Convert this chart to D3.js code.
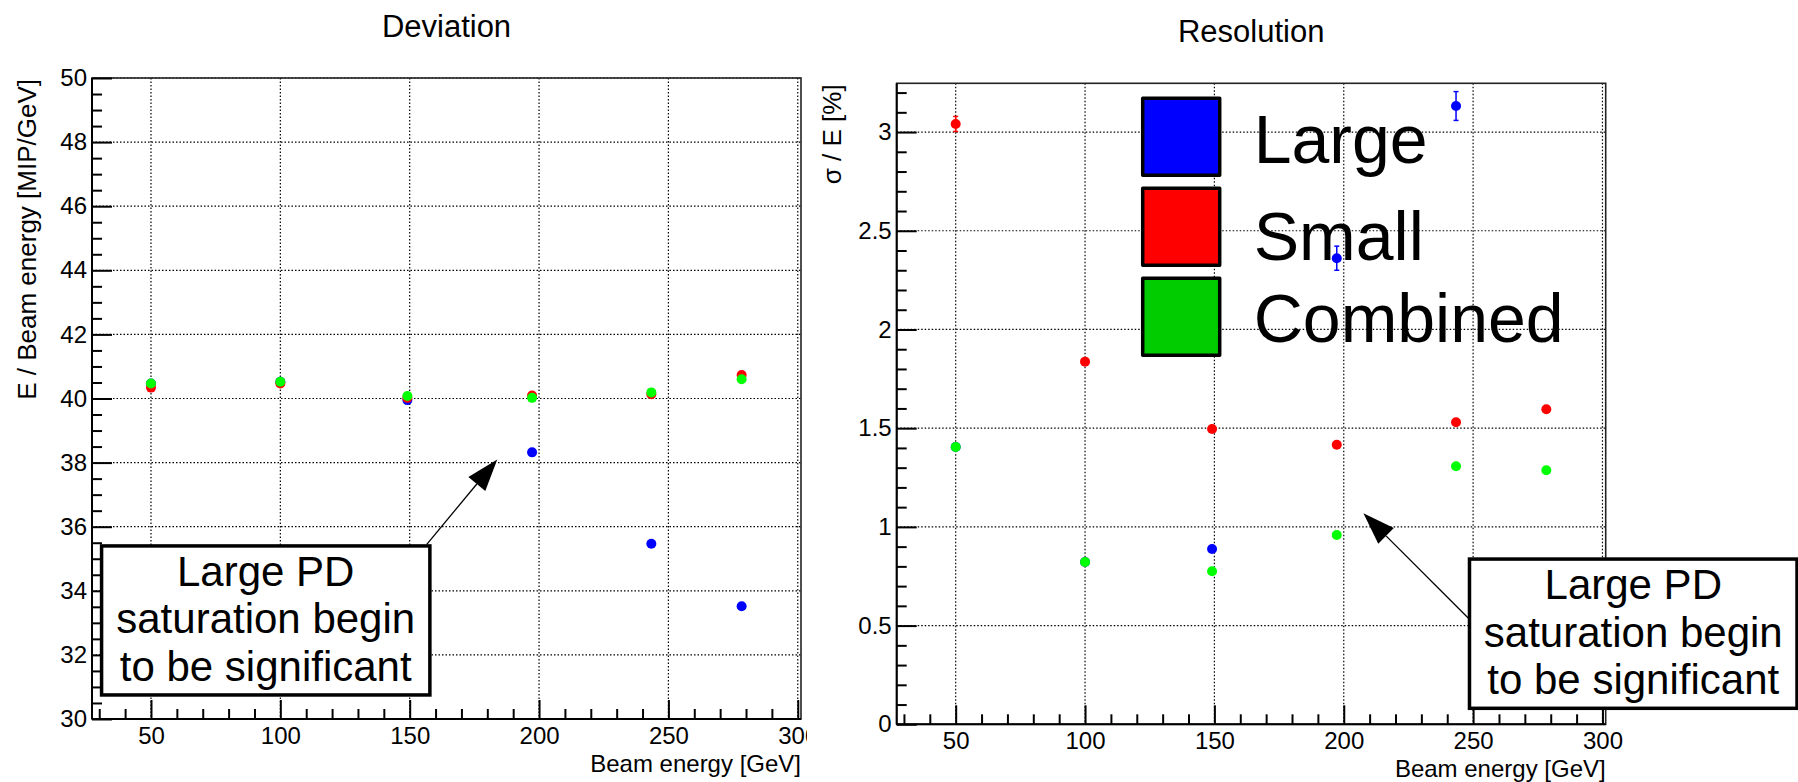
<!DOCTYPE html>
<html>
<head>
<meta charset="utf-8">
<script src="https://cdn.jsdelivr.net/npm/d3@7"></script>
<style>
  body { margin: 0; background: #fff; }
  svg { display: block; font-family: "Liberation Sans", Arial, sans-serif; }
</style>
</head>
<body>
<div id="chart"></div>
<script>
// beam energies [GeV] of the runs
const beamEnergy = [50, 100, 149.1, 197.3, 243.4, 278.3];

// E / beam energy [MIP/GeV]
const devLarge = [40.47, 40.52, 39.95, 38.32, 35.47, 33.52];
const devSmall = [40.34, 40.47, 40.02, 40.09, 40.13, 40.73];
const devCombined = [40.47, 40.52, 40.08, 40.02, 40.19, 40.60];

// sigma / E [%]  (large PD at 278 GeV is above the frame)
const resLarge = [1.405, 0.822, 0.888, 2.361, 3.132, null];
const resLargeErr = [0.01, 0.01, 0.012, 0.061, 0.073, null];
const resSmall = [3.041, 1.837, 1.496, 1.416, 1.530, 1.596];
const resSmallErr = [0.038, 0.015, 0.012, 0.01, 0.012, 0.012];
const resCombined = [1.405, 0.822, 0.775, 0.959, 1.307, 1.287];
const resCombinedErr = [0.01, 0.008, 0.008, 0.01, 0.012, 0.012];

const seriesNames = ["Large", "Small", "Combined"];
const markerColors = ["#0000ff", "#ff0000", "#00ff00"];
const legendColors = ["#0000ff", "#ff0000", "#00cc00"];

const xTicks = [50, 100, 150, 200, 250, 300];
const devTicks = [30, 32, 34, 36, 38, 40, 42, 44, 46, 48, 50];
const resTicks = [0, 0.5, 1, 1.5, 2, 2.5, 3];

const noteLines = ["Large PD", "saturation begin", "to be significant"];

const xDomain = [27.2, 301.25];
const fontFamily = "Liberation Sans, Arial, sans-serif";
// root places each legend entry's text a little differently
const legendTextDy = [65, 72, 64];

const svg = d3.select("#chart")
  .append("svg")
  .attr("width", 1798)
  .attr("height", 782);

// left canvas is cut off just right of its frame
svg.append("defs").append("clipPath")
  .attr("id", "leftPad")
  .append("rect")
  .attr("x", 0).attr("y", 0)
  .attr("width", 807).attr("height", 782);

const pads = [
  {
    clip: "leftPad",
    frame: { left: 92, right: 801, top: 78, bottom: 719 },
    title: "Deviation",
    yLabel: "E / Beam energy [MIP/GeV]",
    yDomain: [30, 50],
    yTicks: devTicks,
    yMinor: 0.5,
    series: [devLarge, devSmall, devCombined],
    errors: null,
    legend: false,
    note: { x0: 30.9, x1: 157.8, yTop: 35.4, yBottom: 30.75, from: [156.6, 35.45], to: [183.85, 38.1] }
  },
  {
    clip: null,
    frame: { left: 896.7, right: 1605.7, top: 83.3, bottom: 724.3 },
    title: "Resolution",
    yLabel: "σ / E [%]",
    yDomain: [0, 3.247],
    yTicks: resTicks,
    yMinor: 0.1,
    series: [resLarge, resSmall, resCombined],
    errors: [resLargeErr, resSmallErr, resCombinedErr],
    legend: true,
    note: { x0: 248.6, x1: 375.2, yTop: 0.837, yBottom: 0.081, from: [248.2, 0.537], to: [207.6, 1.069] }
  }
];

const minorValues = (lo, hi, step, majors) => {
  const n = Math.floor((hi - lo) / step + 1e-6);
  return d3.range(n + 1)
    .map(i => lo + i * step)
    .filter(v => !majors.some(m => Math.abs(m - v) < step / 10));
};

const styleAxis = (a, size) => {
  a.select(".domain").remove();
  a.attr("font-size", size).attr("font-family", fontFamily);
  a.selectAll("line").attr("stroke", "#000").attr("stroke-width", 2);
  a.selectAll("text").attr("fill", "#000");
};

const drawPad = cfg => {
  const f = cfg.frame;
  const x = d3.scaleLinear().domain(xDomain).range([f.left, f.right]);
  const y = d3.scaleLinear().domain(cfg.yDomain).range([f.bottom, f.top]);

  const g = svg.append("g");
  if (cfg.clip) g.attr("clip-path", `url(#${cfg.clip})`);

  // dotted grid
  g.append("g")
    .selectAll("line")
    .data(xTicks)
    .join("line")
    .attr("x1", d => x(d)).attr("x2", d => x(d))
    .attr("y1", f.top).attr("y2", f.bottom)
    .attr("stroke", "#000").attr("stroke-width", 1.2)
    .attr("stroke-dasharray", "1.5,2");

  g.append("g")
    .selectAll("line")
    .data(cfg.yTicks)
    .join("line")
    .attr("x1", f.left).attr("x2", f.right)
    .attr("y1", d => y(d)).attr("y2", d => y(d))
    .attr("stroke", "#000").attr("stroke-width", 1.2)
    .attr("stroke-dasharray", "1.5,2");

  // frame
  g.append("rect")
    .attr("x", f.left).attr("y", f.top)
    .attr("width", f.right - f.left).attr("height", f.bottom - f.top)
    .attr("fill", "none").attr("stroke", "#222").attr("stroke-width", 1.6);

  // x axis, ticks pointing inwards
  g.append("g")
    .attr("transform", `translate(0, ${f.bottom})`)
    .call(d3.axisBottom(x).tickValues(xTicks).tickSize(-19).tickPadding(8).tickFormat(d => d))
    .call(a => styleAxis(a, 24));

  g.append("g")
    .attr("transform", `translate(0, ${f.bottom})`)
    .call(d3.axisBottom(x).tickValues(minorValues(30, 300, 10, xTicks)).tickSize(-10).tickFormat(""))
    .call(a => styleAxis(a, 24));

  // y axis
  g.append("g")
    .attr("transform", `translate(${f.left}, 0)`)
    .call(d3.axisLeft(y).tickValues(cfg.yTicks).tickSize(-20).tickPadding(5).tickFormat(d => String(d)))
    .call(a => styleAxis(a, 24));

  g.append("g")
    .attr("transform", `translate(${f.left}, 0)`)
    .call(d3.axisLeft(y).tickValues(minorValues(cfg.yDomain[0], cfg.yDomain[1], cfg.yMinor, cfg.yTicks)).tickSize(-10).tickFormat(""))
    .call(a => styleAxis(a, 24));

  g.append("line")
    .attr("x1", f.left).attr("x2", f.right)
    .attr("y1", f.bottom).attr("y2", f.bottom)
    .attr("stroke", "#000").attr("stroke-width", 2);
  g.append("line")
    .attr("x1", f.left).attr("x2", f.left)
    .attr("y1", f.top).attr("y2", f.bottom)
    .attr("stroke", "#000").attr("stroke-width", 2);

  // titles
  g.append("text")
    .attr("x", (f.left + f.right) / 2)
    .attr("y", f.top - 41)
    .attr("text-anchor", "middle")
    .attr("font-size", 31)
    .text(cfg.title);

  g.append("text")
    .attr("transform", `translate(${f.left - 56}, ${f.top + 1}) rotate(-90)`)
    .attr("text-anchor", "end")
    .attr("font-size", 26)
    .text(cfg.yLabel);

  g.append("text")
    .attr("x", f.right)
    .attr("y", f.bottom + 53)
    .attr("text-anchor", "end")
    .attr("font-size", 24)
    .text("Beam energy [GeV]");

  // legend (no border, opaque colour boxes)
  if (cfg.legend) {
    const leg = g.append("g")
      .attr("transform", `translate(${f.left + 246}, ${f.top + 15})`);
    const row = leg.selectAll("g")
      .data(seriesNames)
      .join("g")
      .attr("transform", (d, i) => `translate(0, ${i * 90})`);
    row.append("rect")
      .attr("width", 77).attr("height", 77)
      .attr("fill", (d, i) => legendColors[i])
      .attr("stroke", "#000").attr("stroke-width", 3.5)
      .attr("stroke-linejoin", "round");
    row.append("text")
      .attr("x", 111)
      .attr("y", (d, i) => legendTextDy[i])
      .attr("font-size", 68)
      .text(d => d);
  }

  // points: large, small, combined (combined on top)
  cfg.series.forEach((vals, s) => {
    const pts = beamEnergy
      .map((e, i) => ({ e, v: vals[i], err: cfg.errors ? cfg.errors[s][i] : 0 }))
      .filter(p => p.v !== null);

    const sg = g.append("g");
    const eb = sg.selectAll("g.err")
      .data(pts.filter(p => p.err > 0))
      .join("g")
      .attr("class", "err")
      .attr("stroke", markerColors[s])
      .attr("stroke-width", 1.5);
    eb.append("line")
      .attr("x1", p => x(p.e)).attr("x2", p => x(p.e))
      .attr("y1", p => y(p.v - p.err)).attr("y2", p => y(p.v + p.err));
    eb.append("line")
      .attr("x1", p => x(p.e) - 2.5).attr("x2", p => x(p.e) + 2.5)
      .attr("y1", p => y(p.v - p.err)).attr("y2", p => y(p.v - p.err));
    eb.append("line")
      .attr("x1", p => x(p.e) - 2.5).attr("x2", p => x(p.e) + 2.5)
      .attr("y1", p => y(p.v + p.err)).attr("y2", p => y(p.v + p.err));

    sg.selectAll("circle")
      .data(pts)
      .join("circle")
      .attr("cx", p => x(p.e))
      .attr("cy", p => y(p.v))
      .attr("r", 5)
      .attr("fill", markerColors[s]);
  });

  // annotation box with arrow
  const n = cfg.note;
  const bx = x(n.x0), by = y(n.yTop);
  const bw = x(n.x1) - bx, bh = y(n.yBottom) - by;

  const [ax0, ay0] = [x(n.from[0]), y(n.from[1])];
  const [ax1, ay1] = [x(n.to[0]), y(n.to[1])];
  const ang = Math.atan2(ay1 - ay0, ax1 - ax0);
  const headLen = 32, headHalf = 11;
  const bxm = ax1 - headLen * Math.cos(ang), bym = ay1 - headLen * Math.sin(ang);

  g.append("line")
    .attr("x1", ax0).attr("y1", ay0)
    .attr("x2", bxm).attr("y2", bym)
    .attr("stroke", "#000").attr("stroke-width", 1.3);
  g.append("path")
    .attr("d", d3.line()([
      [ax1, ay1],
      [bxm + headHalf * Math.sin(ang), bym - headHalf * Math.cos(ang)],
      [bxm - headHalf * Math.sin(ang), bym + headHalf * Math.cos(ang)]
    ]) + "Z")
    .attr("fill", "#000");

  g.append("rect")
    .attr("x", bx).attr("y", by)
    .attr("width", bw).attr("height", bh)
    .attr("fill", "#fff")
    .attr("stroke", "#000").attr("stroke-width", 3.5);

  g.append("g")
    .selectAll("text")
    .data(noteLines)
    .join("text")
    .attr("x", bx + bw / 2)
    .attr("y", (d, i) => by + 40 + i * 47.5)
    .attr("text-anchor", "middle")
    .attr("font-size", 42)
    .text(d => d);
};

pads.forEach(drawPad);
</script>
</body>
</html>
